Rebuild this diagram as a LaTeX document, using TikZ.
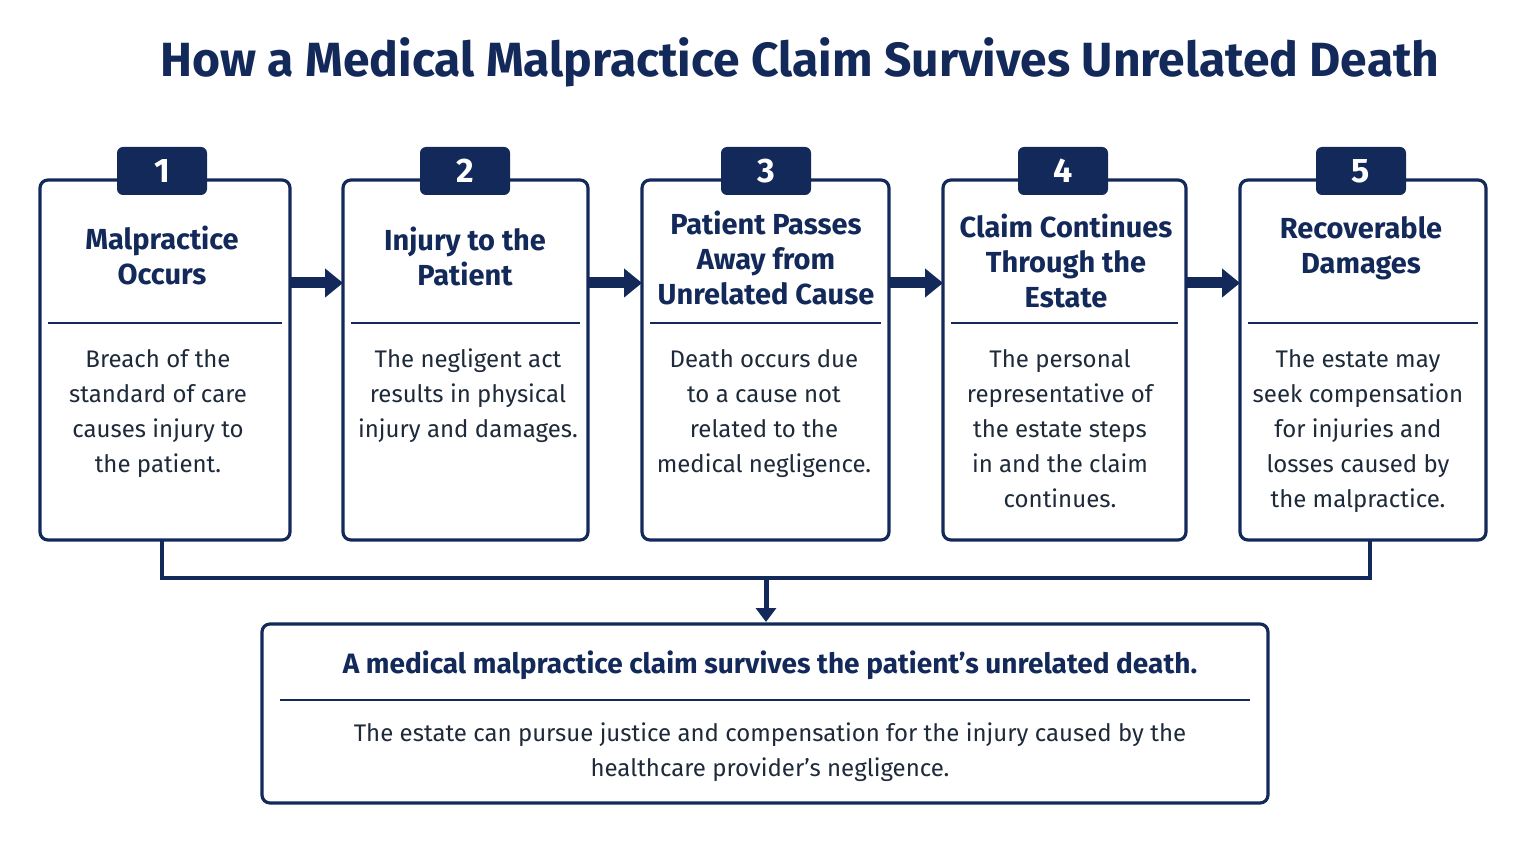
\documentclass[tikz,border=0pt]{standalone}
\usepackage{fontspec}
\setmainfont{Fira Sans}
\usetikzlibrary{arrows.meta}
\definecolor{navy}{HTML}{12295A}
\definecolor{txt}{HTML}{1E2A3A}
\begin{document}
\begin{tikzpicture}[x=0.5pt,y=-0.5pt,
  box/.style={draw=navy,line width=1.6pt,rounded corners=4pt},
  tab/.style={fill=navy,rounded corners=3pt,minimum width=45pt,minimum height=24pt,text=white,font=\fontsize{17}{17}\selectfont\bfseries},
  head/.style={text=navy,font=\fontsize{14.5}{17.5}\selectfont\bfseries,align=center},
  body/.style={text=txt,font=\fontsize{12}{17.5}\selectfont,align=center},
  sep/.style={draw=navy,line width=1pt},
  flow/.style={draw=navy,line width=5.5pt,-{Triangle[length=9pt,width=14pt]}},
  conn/.style={draw=navy,line width=1.6pt}]
\useasboundingbox (0,0) rectangle (1528,845);
\node[text=navy,font=\fontsize{24}{24}\selectfont\bfseries] (title) at (800,62) {How a Medical Malpractice Claim Survives Unrelated Death};
% boxes
\foreach \i/\a/\b in {1/40/290,2/343/588,3/642/889,4/943/1186,5/1240/1486}{
  \draw[box] (\a,180) rectangle (\b,540);
  \coordinate (b\i w) at (\a,283);
  \coordinate (b\i e) at (\b,283);
  \coordinate (b\i s) at ({(\a+\b)/2},540);
  \draw[sep] (\a+8,323) -- (\b-8,323);
}
\node[tab] (t1) at (162,171) {1};
\node[tab] (t2) at (465,171) {2};
\node[tab] (t3) at (766,171) {3};
\node[tab] (t4) at (1063,171) {4};
\node[tab] (t5) at (1361,171) {5};
\node[head] (h1) at (162,255) {Malpractice\\Occurs};
\node[head] (h2) at (465,256) {Injury to the\\Patient};
\node[head] (h3) at (766,258) {Patient Passes\\Away from\\Unrelated Cause};
\node[head] (h4) at (1066,261) {Claim Continues\\Through the\\Estate};
\node[head] (h5) at (1361,248) {Recoverable\\Damages};
\node[body,anchor=north] (d1) at (158,342) {Breach of the\\standard of care\\causes injury to\\the patient.};
\node[body,anchor=north] (d2) at (468,342) {The negligent act\\results in physical\\injury and damages.};
\node[body,anchor=north] (d3) at (764,342) {Death occurs due\\to a cause not\\related to the\\medical negligence.};
\node[body,anchor=north] (d4) at (1060,342) {The personal\\representative of\\the estate steps\\in and the claim\\continues.};
\node[body,anchor=north] (d5) at (1358,342) {The estate may\\seek compensation\\for injuries and\\losses caused by\\the malpractice.};
\foreach \i/\j in {1/2,2/3,3/4,4/5}{\draw[flow] (b\i e) -- (b\j w);}
% bottom
\coordinate (c1) at (162,578);
\coordinate (c5) at (1370,578);
\coordinate (cm) at (766,578);
\draw[conn] (162,540) -- (c1) -- (c5) -- (1370,540);
\draw[box] (262,624) rectangle (1268,803);
\coordinate (bt) at (766,622);
\draw[navy,line width=2.5pt,-{Triangle[length=7pt,width=10pt]}] (cm) -- (bt);
\draw[sep] (280,700) -- (1250,700);
\node[text=navy,font=\fontsize{14}{17}\selectfont\bfseries] (bh) at (770,665) {A medical malpractice claim survives the patient’s unrelated death.};
\node[body] (bb) at (770,752) {The estate can pursue justice and compensation for the injury caused by the\\healthcare provider’s negligence.};
\end{tikzpicture}
\end{document}
